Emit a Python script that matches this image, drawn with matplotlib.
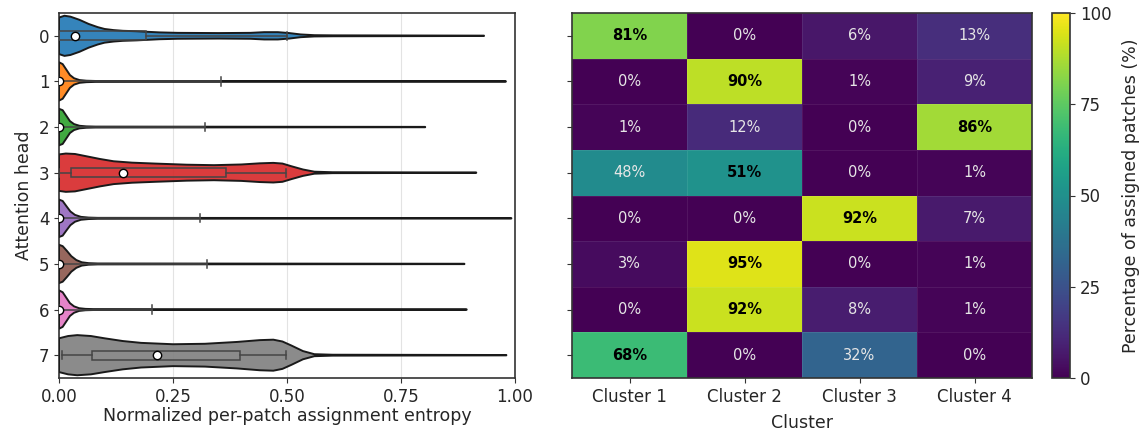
import numpy as np
import matplotlib
matplotlib.use("Agg")
import matplotlib.pyplot as plt

# ---------------------------------------------------------------- data
heads = [0, 1, 2, 3, 4, 5, 6, 7]
clusters = ["Cluster 1", "Cluster 2", "Cluster 3", "Cluster 4"]

# share of patches per head assigned to each cluster (%)
assign_pct = [
    [81, 0, 6, 13],
    [0, 90, 1, 9],
    [1, 12, 0, 86],
    [48, 51, 0, 1],
    [0, 0, 92, 7],
    [3, 95, 0, 1],
    [0, 92, 8, 1],
    [68, 0, 32, 0],
]

# violin outlines: entropy position and half-width of the density
violin_pos = {
    0: [0.000, 0.012, 0.025, 0.045, 0.065, 0.085, 0.100, 0.120, 0.140, 0.170, 0.190,
        0.220, 0.260, 0.350, 0.420, 0.450, 0.480, 0.505, 0.530, 0.560, 0.600, 0.932],
    1: [0.000, 0.008, 0.016, 0.024, 0.033, 0.045, 0.060, 0.080, 0.980],
    2: [0.000, 0.008, 0.016, 0.024, 0.033, 0.045, 0.060, 0.080, 0.803],
    3: [0.000, 0.015, 0.035, 0.060, 0.090, 0.120, 0.160, 0.210, 0.280, 0.340, 0.400,
        0.440, 0.470, 0.490, 0.510, 0.535, 0.560, 0.600, 0.915],
    4: [0.000, 0.008, 0.016, 0.025, 0.035, 0.048, 0.065, 0.085, 0.992],
    5: [0.000, 0.008, 0.017, 0.027, 0.038, 0.050, 0.065, 0.085, 0.889],
    6: [0.000, 0.008, 0.016, 0.024, 0.033, 0.044, 0.058, 0.075, 0.894],
    7: [0.000, 0.020, 0.040, 0.070, 0.100, 0.140, 0.180, 0.250, 0.320, 0.390, 0.440,
        0.470, 0.490, 0.510, 0.535, 0.560, 0.600, 0.981],
}
violin_half = {
    0: [0.40, 0.44, 0.42, 0.35, 0.26, 0.19, 0.15, 0.125, 0.11, 0.10, 0.09,
        0.075, 0.065, 0.06, 0.065, 0.08, 0.08, 0.06, 0.03, 0.014, 0.010, 0.004],
    1: [0.42, 0.38, 0.26, 0.14, 0.07, 0.03, 0.016, 0.010, 0.004],
    2: [0.40, 0.37, 0.25, 0.13, 0.065, 0.028, 0.015, 0.010, 0.004],
    3: [0.40, 0.42, 0.41, 0.36, 0.30, 0.25, 0.22, 0.20, 0.175, 0.165, 0.18,
        0.205, 0.215, 0.20, 0.14, 0.07, 0.022, 0.010, 0.004],
    4: [0.41, 0.38, 0.27, 0.15, 0.075, 0.032, 0.016, 0.010, 0.004],
    5: [0.42, 0.39, 0.29, 0.17, 0.085, 0.036, 0.017, 0.010, 0.004],
    6: [0.42, 0.38, 0.26, 0.14, 0.07, 0.03, 0.015, 0.010, 0.004],
    7: [0.37, 0.42, 0.44, 0.42, 0.37, 0.31, 0.27, 0.24, 0.25, 0.29, 0.33,
        0.34, 0.30, 0.21, 0.09, 0.022, 0.010, 0.004],
}

# box summary per head: lower whisker, Q1, median, Q3, upper whisker
whisker_lo = [0.000, 0.000, 0.000, 0.000, 0.000, 0.000, 0.000, 0.007]
q1 = [0.000, 0.000, 0.000, 0.026, 0.000, 0.000, 0.000, 0.073]
median = [0.035, 0.000, 0.000, 0.141, 0.000, 0.000, 0.000, 0.216]
q3 = [0.190, 0.000, 0.000, 0.366, 0.000, 0.000, 0.000, 0.397]
whisker_hi = [0.500, 0.355, 0.320, 0.497, 0.310, 0.325, 0.205, 0.497]

head_colors = ["#1f77b4", "#ff7f0e", "#2ca02c", "#d62728",
               "#9467bd", "#8c564b", "#e377c2", "#7f7f7f"]

# ---------------------------------------------------------------- figure
plt.rcParams["font.family"] = ["DejaVu Sans"]
plt.rcParams["font.size"] = 12
plt.rcParams["axes.labelsize"] = 12.5
plt.rcParams["axes.edgecolor"] = "#333333"
plt.rcParams["axes.linewidth"] = 1.2
plt.rcParams["xtick.color"] = "#333333"
plt.rcParams["ytick.color"] = "#333333"
plt.rcParams["xtick.labelcolor"] = "#262626"
plt.rcParams["ytick.labelcolor"] = "#262626"
plt.rcParams["axes.labelcolor"] = "#262626"

W, H = 1143, 438
fig = plt.figure(figsize=(W / 100, H / 100), dpi=100)


def px_rect(x0, y0, x1, y1):
    return [x0 / W, 1 - y1 / H, (x1 - x0) / W, (y1 - y0) / H]


ax_v = fig.add_axes(px_rect(59, 13, 515, 378))
ax_h = fig.add_axes(px_rect(572, 13, 1032, 378))
cax = fig.add_axes(px_rect(1052, 13, 1070, 378))

# ---------------------------------------------------------------- violins
edge = "#1a1a1a"
box_col = "#454545"
for i, h in enumerate(heads):
    xs = np.asarray(violin_pos[h])
    hw = np.asarray(violin_half[h])
    poly_x = np.concatenate([xs, xs[::-1]])
    poly_y = np.concatenate([i - hw, (i + hw)[::-1]])
    ax_v.fill(poly_x, poly_y, facecolor=head_colors[i], alpha=0.9,
              edgecolor="none", zorder=2)
    ax_v.fill(poly_x, poly_y, facecolor="none", edgecolor=edge,
              linewidth=1.4, joinstyle="round", zorder=3)

    # box, whiskers and caps
    bh = 0.095
    if q3[i] > q1[i]:
        ax_v.add_patch(plt.Rectangle((q1[i], i - bh), q3[i] - q1[i], 2 * bh,
                                     facecolor="none", edgecolor=box_col,
                                     linewidth=1.1, zorder=4))
    ax_v.plot([whisker_lo[i], q1[i]], [i, i], color=box_col, lw=1.1, zorder=4)
    ax_v.plot([q3[i], whisker_hi[i]], [i, i], color=box_col, lw=1.1, zorder=4)
    for w in (whisker_lo[i], whisker_hi[i]):
        ax_v.plot([w, w], [i - 0.09, i + 0.09], color=box_col, lw=1.1, zorder=4)
    ax_v.plot(median[i], i, "o", markersize=6, markerfacecolor="white",
              markeredgecolor="black", markeredgewidth=1.0, zorder=5)

ax_v.set_xlim(0, 1)
ax_v.set_ylim(7.5, -0.5)
ax_v.set_xticks([0, 0.25, 0.5, 0.75, 1.0])
ax_v.set_xticklabels(["0.00", "0.25", "0.50", "0.75", "1.00"])
ax_v.set_yticks(range(len(heads)))
ax_v.set_yticklabels([str(h) for h in heads])
ax_v.grid(axis="x", color="#e3e3e3", linewidth=0.8, zorder=0)
ax_v.set_axisbelow(True)
ax_v.set_xlabel("Normalized per-patch assignment entropy", labelpad=1)
ax_v.set_ylabel("Attention head")

# ---------------------------------------------------------------- heatmap
vals = np.asarray(assign_pct, dtype=float)
xe = np.arange(len(clusters) + 1) - 0.5
ye = np.arange(len(heads) + 1) - 0.5
mesh = ax_h.pcolormesh(xe, ye, vals, cmap="viridis", vmin=0, vmax=100,
                       edgecolors=(1, 1, 1, 0.08), linewidth=0.5)
ax_h.set_xlim(-0.5, len(clusters) - 0.5)
ax_h.set_ylim(len(heads) - 0.5, -0.5)
ax_h.set_xticks(range(len(clusters)))
ax_h.set_xticklabels(clusters)
ax_h.set_yticks(range(len(heads)))
ax_h.set_yticklabels([])
ax_h.set_xlabel("Cluster", labelpad=6)
for r in range(vals.shape[0]):
    for c in range(vals.shape[1]):
        v = assign_pct[r][c]
        if v >= 50:
            ax_h.text(c, r, f"{v}%", ha="center", va="center", fontsize=10.5,
                      color="black", fontweight="bold")
        else:
            ax_h.text(c, r, f"{v}%", ha="center", va="center", fontsize=10.5,
                      color="#e6e6e6")

cb = fig.colorbar(mesh, cax=cax, ticks=[0, 25, 50, 75, 100])
cb.set_label("Percentage of assigned patches (%)", labelpad=8)
cb.outline.set_edgecolor("#333333")
cb.outline.set_linewidth(1.2)

fig.savefig("out.png", dpi=100)
